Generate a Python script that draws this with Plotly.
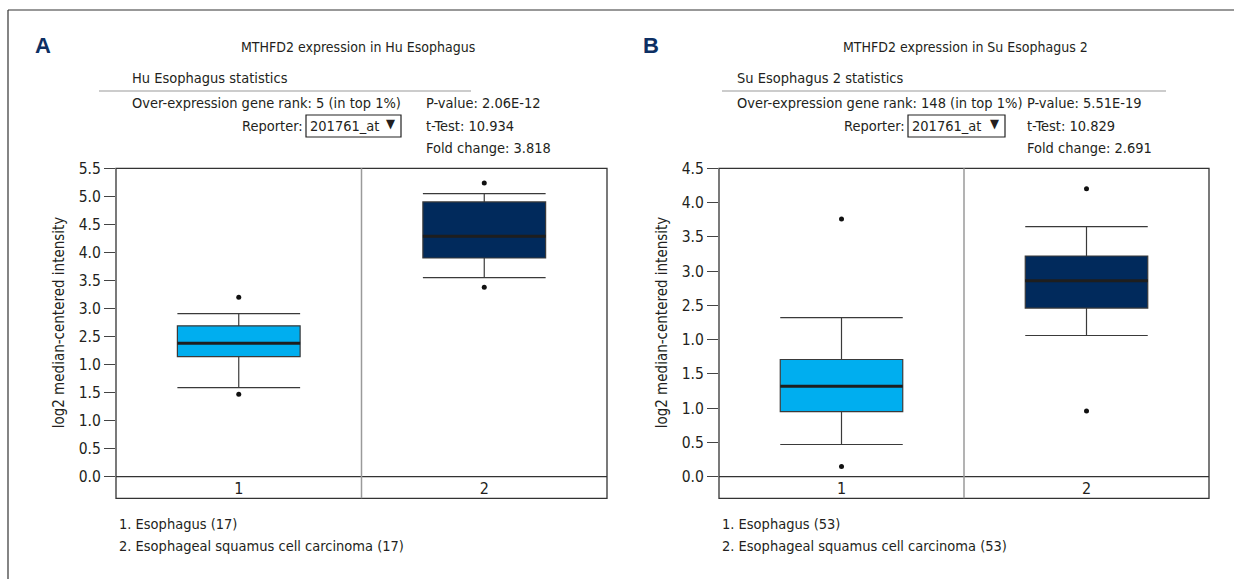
import plotly.graph_objects as go

W, H = 1234, 579

# ---------------- data ----------------
categories = [1, 2]
cat_labels = ["1", "2"]

# Panel A (Hu Esophagus)
a_q1 = [2.14, 3.90]
a_median = [2.38, 4.29]
a_q3 = [2.69, 4.90]
a_low = [1.59, 3.55]
a_high = [2.91, 5.05]
a_out_x = [1, 1, 2, 2]
a_out_y = [3.20, 1.47, 5.24, 3.38]
a_ticks = [0.0, 0.5, 1.0, 1.5, 2.0, 2.5, 3.0, 3.5, 4.0, 4.5, 5.0, 5.5]
a_ticktext = ["0.0", "0.5", "1.0", "1.5", "1.0", "2.5", "3.0", "3.5", "4.0", "4.5", "5.0", "5.5"]

# Panel B (Su Esophagus 2)
b_q1 = [0.95, 2.46]
b_median = [1.32, 2.86]
b_q3 = [1.71, 3.22]
b_low = [0.47, 2.06]
b_high = [2.32, 3.65]
b_out_x = [1, 1, 2, 2]
b_out_y = [3.76, 0.15, 4.20, 0.96]
b_ticks = [0.0, 0.5, 1.0, 1.5, 2.0, 2.5, 3.0, 3.5, 4.0, 4.5]
b_ticktext = ["0.0", "0.5", "1.0", "1.5", "1.0", "2.5", "3.0", "3.5", "4.0", "4.5"]

box_colors = ["#00aeef", "#012a5c"]

FONT = "DejaVu Sans Condensed, Liberation Sans Narrow, sans-serif"
TXT = "#231f20"
FS = 14.5


def px(x):
    return x / W


def py(y):
    return 1 - y / H


fig = go.Figure()

panels = [
    dict(xa="x", ya="y", q1=a_q1, med=a_median, q3=a_q3, lo=a_low, hi=a_high,
         ox=a_out_x, oy=a_out_y),
    dict(xa="x2", ya="y2", q1=b_q1, med=b_median, q3=b_q3, lo=b_low, hi=b_high,
         ox=b_out_x, oy=b_out_y),
]

TOP, BOT, ROW = 168.3, 476.7, 498.3
BOXW = 0.5

for p in panels:
    for i, c in enumerate(categories):
        fig.add_trace(go.Box(
            x=[c], q1=[p["q1"][i]], median=[p["med"][i]], q3=[p["q3"][i]],
            lowerfence=[p["lo"][i]], upperfence=[p["hi"][i]],
            fillcolor=box_colors[i], line=dict(color="#3a3a3a", width=1.2),
            width=BOXW, whiskerwidth=1, boxpoints=False,
            xaxis=p["xa"], yaxis=p["ya"], showlegend=False, hoverinfo="skip",
        ))
        fig.add_trace(go.Scatter(
            x=[c - BOXW / 2, c + BOXW / 2], y=[p["med"][i], p["med"][i]],
            mode="lines", line=dict(color="#1e1e1e", width=3),
            xaxis=p["xa"], yaxis=p["ya"], showlegend=False, hoverinfo="skip",
        ))
    fig.add_trace(go.Scatter(
        x=p["ox"], y=p["oy"], mode="markers",
        marker=dict(color="#111111", size=5),
        xaxis=p["xa"], yaxis=p["ya"], showlegend=False, hoverinfo="skip",
    ))

dom_y = [py(BOT), py(TOP)]
axis_common = dict(showgrid=False, zeroline=False, mirror=False, automargin=False, fixedrange=True)
yt = dict(text="log2 median-centered intensity", font=dict(size=15), standoff=10)

fig.update_layout(
    width=W, height=H,
    margin=dict(l=0, r=0, t=0, b=0, pad=0, autoexpand=False),
    paper_bgcolor="white", plot_bgcolor="white",
    font=dict(family=FONT, color=TXT, size=FS),
    xaxis=dict(domain=[px(116), px(607)], range=[0.5, 2.5], tickvals=categories, ticktext=cat_labels,
               showline=False, ticks="", tickfont=dict(size=16), ticklabelstandoff=0, **axis_common),
    yaxis=dict(domain=dom_y, range=[0, 5.5], tickvals=a_ticks, ticktext=a_ticktext,
               ticks="outside", ticklen=11, tickcolor="#444", tickwidth=1.2, showline=False,
               tickfont=dict(size=15.5), title=yt, **axis_common),
    xaxis2=dict(domain=[px(719), px(1209)], range=[0.5, 2.5], tickvals=categories, ticktext=cat_labels,
                showline=False, ticks="", tickfont=dict(size=16), ticklabelstandoff=0, anchor="y2", **axis_common),
    yaxis2=dict(domain=dom_y, range=[0, 4.5], tickvals=b_ticks, ticktext=b_ticktext,
                ticks="outside", ticklen=11, tickcolor="#444", tickwidth=1.2, showline=False,
                tickfont=dict(size=15.5), title=yt, anchor="x2", **axis_common),
)

shapes = []
row_frac = -(ROW - BOT) / (BOT - TOP)
for p in panels:
    xd = p["xa"] + " domain"
    yd = p["ya"] + " domain"
    shapes.append(dict(type="rect", xref=xd, yref=yd, x0=0, x1=1, y0=row_frac, y1=1,
                       line=dict(color="#333", width=1.3)))
    shapes.append(dict(type="line", xref=xd, yref=yd, x0=0, x1=1, y0=0, y1=0,
                       line=dict(color="#333", width=1.3)))
    shapes.append(dict(type="line", xref=p["xa"], yref=yd, x0=1.5, x1=1.5, y0=row_frac, y1=1,
                       line=dict(color="#9a9a9a", width=1.5)))

# outer frame (top & left)
shapes.append(dict(type="line", xref="paper", yref="paper", x0=px(8), x1=1, y0=py(10), y1=py(10),
                   line=dict(color="#333", width=1.2)))
shapes.append(dict(type="line", xref="paper", yref="paper", x0=px(8), x1=px(8), y0=0, y1=py(10),
                   line=dict(color="#333", width=1.2)))

annotations = []


def txt(x, y, s, size=FS, anchor="left", color=TXT):
    annotations.append(dict(x=px(x), y=py(y), xref="paper", yref="paper", text=s,
                            showarrow=False, xanchor=anchor, yanchor="middle",
                            font=dict(size=size, color=color, family=FONT)))


headers = [
    dict(letter="A", lx=33, title="MTHFD2 expression in Hu Esophagus", tc=358,
         stat="Hu Esophagus statistics", sx=130, line=(99, 471),
         rank="Over-expression gene rank: 5 (in top 1%)", rep_r=305, box=(306, 401),
         pv="P-value: 2.06E-12", tt="t-Test: 10.934", fc="Fold change: 3.818", vx=424,
         n1="1. Esophagus (17)", n2="2. Esophageal squamus cell carcinoma (17)", nx=117),
    dict(letter="B", lx=641, title="MTHFD2 expression in Su Esophagus 2", tc=965,
         stat="Su Esophagus 2 statistics", sx=735, line=(722, 1166),
         rank="Over-expression gene rank: 148 (in top 1%)", rep_r=907, box=(908, 1005),
         pv="P-value: 5.51E-19", tt="t-Test: 10.829", fc="Fold change: 2.691", vx=1025,
         n1="1. Esophagus (53)", n2="2. Esophageal squamus cell carcinoma (53)", nx=720),
]

for h in headers:
    annotations.append(dict(x=px(h["lx"]), y=py(45), xref="paper", yref="paper", text="<b>%s</b>" % h["letter"],
                            showarrow=False, xanchor="left", yanchor="middle",
                            font=dict(size=22, color="#0d2f63", family="Liberation Sans, Arial, sans-serif")))
    txt(h["tc"], 47, h["title"], size=14, anchor="center")
    txt(h["sx"], 78, h["stat"])
    shapes.append(dict(type="line", xref="paper", yref="paper", x0=px(h["line"][0]), x1=px(h["line"][1]),
                       y0=py(91), y1=py(91), line=dict(color="#999", width=1)))
    txt(h["sx"], 103, h["rank"])
    txt(h["rep_r"], 126, "Reporter:", anchor="right")
    shapes.append(dict(type="rect", xref="paper", yref="paper", x0=px(h["box"][0]), x1=px(h["box"][1]),
                       y0=py(137), y1=py(115), line=dict(color="#222", width=1.2)))
    txt(h["box"][0] + 2, 126, "201761_at")
    txt(h["box"][1] - 4, 124, "\u25BC", size=13, anchor="right")
    txt(h["vx"], 103, h["pv"])
    txt(h["vx"], 126, h["tt"])
    txt(h["vx"], 148, h["fc"])
    txt(h["nx"], 524, h["n1"])
    txt(h["nx"], 546, h["n2"])

fig.update_layout(shapes=shapes, annotations=annotations)

fig.write_html("out.html", config={"displayModeBar": False},
               post_script="document.body.style.margin='0';document.body.style.overflow='hidden';")
